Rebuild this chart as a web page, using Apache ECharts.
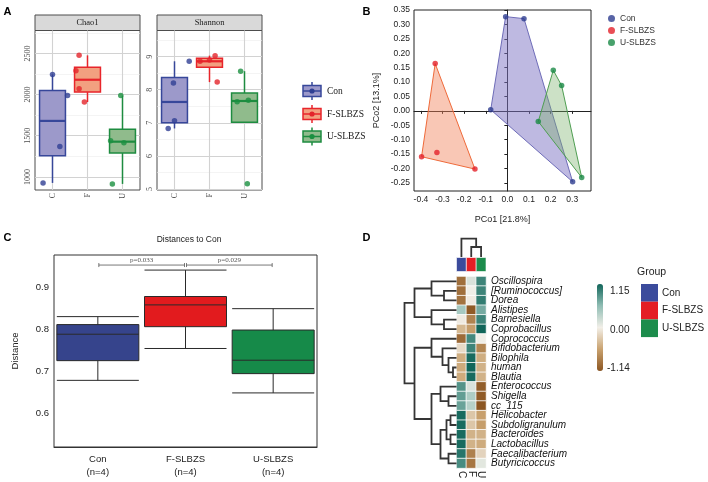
<!DOCTYPE html>
<html><head><meta charset="utf-8">
<script src="https://cdn.jsdelivr.net/npm/echarts@6/dist/echarts.min.js"></script>
<style>html,body{margin:0;padding:0;background:#fff}#c{width:708px;height:482px}</style>
</head><body><div id="c"></div>
<script>
// ---------------- DATA ----------------
const groups = ['Con', 'F-SLBZS', 'U-SLBZS'];
const facetCats = ['C', 'F', 'U'];
// Panel A: box stats [whiskerLow, Q1, median, Q3, whiskerHigh]
const chao1Box = [[927, 1258, 1680, 2048, 2244], [1910, 2030, 2180, 2333, 2476], [915, 1290, 1428, 1578, 1988]];
const chao1Pts = [[927, 1370, 1988, 2244], [1910, 2070, 2290, 2476], [915, 1415, 1440, 1988]];
const chao1Jit = [[-0.27, 0.21, 0.43, 0.0], [-0.09, -0.24, -0.33, -0.24], [-0.29, 0.04, -0.34, -0.05]];
const chao1Ticks = [1000, 1500, 2000, 2500];
const chao1Minor = [1250, 1750, 2250, 2750];
const shanBox = [[6.83, 7.0, 7.63, 8.37, 8.86], [8.23, 8.68, 8.86, 8.95, 9.03], [7.02, 7.02, 7.66, 7.90, 8.56]];
const shanPts = [[6.83, 7.06, 8.2, 8.86], [8.23, 8.86, 8.9, 9.03], [5.16, 7.64, 7.68, 8.56]];
const shanJit = [[-0.18, 0.0, -0.03, 0.42], [0.22, -0.27, 0.0, 0.16], [0.08, -0.21, 0.11, -0.11]];
const shanTicks = [5, 6, 7, 8, 9];
const shanMinor = [5.5, 6.5, 7.5, 8.5, 9.5];
// Panel B: PCoA coordinates
const pcoaCon = [[-0.008, 0.327], [0.077, 0.320], [0.302, -0.246], [-0.077, 0.004]];
const pcoaF = [[-0.334, 0.164], [-0.150, -0.202], [-0.397, -0.159], [-0.326, -0.144]];
const pcoaU = [[0.2125, 0.141], [0.251, 0.088], [0.344, -0.231], [0.143, -0.037]];
const hullCon = [0, 1, 2, 3], hullF = [0, 1, 2], hullU = [0, 1, 2, 3];
const pcoXTicks = [-0.4, -0.3, -0.2, -0.1, 0.0, 0.1, 0.2, 0.3];
const pcoYTicks = [-0.25, -0.2, -0.15, -0.1, -0.05, 0, 0.05, 0.1, 0.15, 0.2, 0.25, 0.3, 0.35];
// Panel C: distances to Con [low, Q1, median, Q3, high]
const distCats = ['Con\n(n=4)', 'F-SLBZS\n(n=4)', 'U-SLBZS\n(n=4)'];
const distBox = [[0.678, 0.725, 0.788, 0.811, 0.830], [0.754, 0.806, 0.858, 0.878, 0.941], [0.648, 0.694, 0.726, 0.798, 0.849]];
const distTicks = [0.6, 0.7, 0.8, 0.9];
const pTests = [[0, 1, 0.953], [1, 2, 0.953]];
const pLabels = ['p=0.033', 'p=0.029'];
// Panel D: heatmap
const genera = ['Oscillospira', '[Ruminococcus]', 'Dorea', 'Alistipes', 'Barnesiella', 'Coprobacillus',
  'Coprococcus', 'Bifidobacterium', 'Bilophila', 'human', 'Blautia', 'Enterococcus', 'Shigella', 'cc_115',
  'Helicobacter', 'Subdoligranulum', 'Bacteroides', 'Lactobacillus', 'Faecalibacterium', 'Butyricicoccus'];
const heatC = [-0.95, -0.95, -0.92, 0.45, -0.03, -0.40, -0.98, -0.15, -0.48, -0.50, -0.50, 0.85, 0.78, 0.75, 1.12, 1.12, 1.12, 1.12, 1.05, 0.90];
const heatF = [0.15, 0.02, -0.03, -1.10, -0.80, -0.60, 0.92, 0.95, 1.12, 1.15, 1.12, 0.15, 0.40, 0.35, -0.30, -0.30, -0.45, -0.45, -0.82, -0.90];
const heatU = [0.95, 0.95, 1.00, 0.70, 0.95, 1.15, 0.02, -0.78, -0.48, -0.45, -0.45, -1.08, -1.10, -1.14, -0.58, -0.60, -0.45, -0.50, -0.20, 0.10];
// dendrogram merges [childA, childB, height]; leaves 0..19, new nodes from 20
const rowMerges = [[1, 2, 12.5], [0, 20, 25], [4, 5, 12.5], [3, 22, 25], [21, 23, 42],
  [9, 10, 3.5], [8, 25, 8], [7, 26, 14], [6, 27, 25], [12, 13, 8], [11, 29, 16],
  [14, 15, 6], [16, 17, 6], [31, 32, 10], [18, 19, 8], [33, 34, 16], [30, 35, 25], [28, 36, 42], [24, 37, 52]];
const colMerges = [[1, 2, 10], [0, 3, 18.3]];
const heatMin = -1.14, heatMax = 1.15;

// ---------------- STYLE ----------------
const aBorder = ['#37479a', '#e8252b', '#1e8c40'];
const aFill = ['#9c99ca', '#f2a080', '#90bb8c'];
const aPoint = ['#2f3f94', '#e3242b', '#1a9040'];
const bPoint = ['#2e3d90', '#e3222a', '#1a8a46'];
const hullFill = ['rgba(125,115,195,0.50)', 'rgba(242,130,90,0.45)', 'rgba(120,175,105,0.38)'];
const hullStroke = ['#6e6cb8', '#ef6a3a', '#4f9e52'];
const cFill = ['#36448c', '#e21b1e', '#168a49'];
const grpColors = ['#3b4b9c', '#e41e24', '#1c8c4c'];
const serif = 'Liberation Serif', sans = 'Liberation Sans';

// ---------------- BUILD ----------------
const chart = echarts.init(document.getElementById('c'), null, { width: 708, height: 482 });

function ggBox(params, api) {
  const i = api.value(0);
  const pLo = api.coord([i, api.value(1)]), pQ1 = api.coord([i, api.value(2)]),
    pMd = api.coord([i, api.value(3)]), pQ3 = api.coord([i, api.value(4)]), pHi = api.coord([i, api.value(5)]);
  const bw = api.size([1, 0])[0] * 0.74;
  const x = pQ1[0];
  const col = aBorder[i];
  return { type: 'group', children: [
    { type: 'line', shape: { x1: x, y1: pQ3[1], x2: x, y2: pHi[1] }, style: { stroke: col, lineWidth: 1.5 } },
    { type: 'line', shape: { x1: x, y1: pQ1[1], x2: x, y2: pLo[1] }, style: { stroke: col, lineWidth: 1.5 } },
    { type: 'rect', shape: { x: x - bw / 2, y: pQ3[1], width: bw, height: pQ1[1] - pQ3[1] }, style: { fill: aFill[i], stroke: col, lineWidth: 1.5 } },
    { type: 'line', shape: { x1: x - bw / 2, y1: pMd[1], x2: x + bw / 2, y2: pMd[1] }, style: { stroke: col, lineWidth: 2.2 } }
  ] };
}

function facetSeries(xCat, xVal, yIdx, boxes, pts, jit, major, minor) {
  const gl = [];
  major.forEach(v => gl.push({ yAxis: v, lineStyle: { color: '#d2d2d2', width: 1.1, type: 'solid' } }));
  minor.forEach(v => gl.push({ yAxis: v, lineStyle: { color: '#ececec', width: 0.6, type: 'solid' } }));
  [0, 1, 2].forEach(v => gl.push({ xAxis: v, lineStyle: { color: '#d2d2d2', width: 1.1, type: 'solid' } }));
  const scatterData = [];
  pts.forEach((arr, g) => arr.forEach((v, k) => scatterData.push({ value: [g + jit[g][k], v], itemStyle: { color: aPoint[g] } })));
  return [
    { type: 'scatter', xAxisIndex: xVal, yAxisIndex: yIdx, data: [], z: 1, silent: true,
      markLine: { z: 1, silent: true, symbol: ['none', 'none'], label: { show: false }, animation: false, data: gl } },
    { type: 'custom', xAxisIndex: xCat, yAxisIndex: yIdx, z: 2, renderItem: ggBox,
      encode: { x: 0, y: [1, 2, 3, 4, 5] }, data: boxes.map((b, i) => [i].concat(b)) },
    { type: 'scatter', xAxisIndex: xVal, yAxisIndex: yIdx, z: 3, symbolSize: 5.5, data: scatterData }
  ];
}

const pcoaGroups = [pcoaCon, pcoaF, pcoaU];
const hulls = [hullCon, hullF, hullU];

// dendrogram geometry from merges
const nPos = genera.map((_, i) => i), nH = genera.map(() => 0);
rowMerges.forEach(([a, b, h]) => { nPos.push((nPos[a] + nPos[b]) / 2); nH.push(h); });
const rowDendro = rowMerges.map(([a, b, h]) => [nH[a], nPos[a], h, nPos[b], nH[b]]);
const cPos = facetCats.map((_, i) => i), cH = facetCats.map(() => 0);
colMerges.forEach(([a, b, h]) => { cPos.push((cPos[a] + cPos[b]) / 2); cH.push(h); });
const colDendro = colMerges.map(([a, b, h]) => [cPos[a], cH[a], h, cPos[b], cH[b]]);

const heatData = [];
genera.forEach((g, r) => { heatData.push([0, r, heatC[r]]); heatData.push([1, r, heatF[r]]); heatData.push([2, r, heatU[r]]); });

const series = [];
series.push(...facetSeries(0, 1, 0, chao1Box, chao1Pts, chao1Jit, chao1Ticks, chao1Minor));
series.push(...facetSeries(2, 3, 1, shanBox, shanPts, shanJit, shanTicks, shanMinor));
// B hulls
series.push({ type: 'custom', xAxisIndex: 4, yAxisIndex: 2, z: 1, data: pcoaGroups.map(p => p[0]),
  renderItem: (params, api) => {
    const g = params.dataIndex;
    const poly = hulls[g].map(k => api.coord(pcoaGroups[g][k]));
    return { type: 'polygon', shape: { points: poly }, style: { fill: hullFill[g], stroke: hullStroke[g], lineWidth: 1 } };
  } });
groups.forEach((name, g) => series.push({ type: 'scatter', name: name, xAxisIndex: 4, yAxisIndex: 2, z: 3,
  symbolSize: 5.5, itemStyle: { color: bPoint[g] }, data: pcoaGroups[g] }));
// C boxplot
series.push({ type: 'boxplot', xAxisIndex: 5, yAxisIndex: 3, boxWidth: [82, 82],
  itemStyle: { borderColor: '#2a2a2a', borderWidth: 1 },
  data: distBox.map((b, i) => ({ value: b, itemStyle: { color: cFill[i] } })) });
series.push({ type: 'custom', xAxisIndex: 5, yAxisIndex: 3, z: 5, data: pTests,
  encode: { x: 0, y: 2 },
  renderItem: (params, api) => {
    const a = api.coord([api.value(0), api.value(2)]), b = api.coord([api.value(1), api.value(2)]);
    const x1 = a[0] + 1, x2 = b[0] - 1, y = a[1];
    const st = { stroke: '#555', lineWidth: 0.8 };
    return { type: 'group', children: [
      { type: 'line', shape: { x1: x1, y1: y, x2: x2, y2: y }, style: st },
      { type: 'line', shape: { x1: x1, y1: y - 2, x2: x1, y2: y + 2 }, style: st },
      { type: 'line', shape: { x1: x2, y1: y - 2, x2: x2, y2: y + 2 }, style: st },
      { type: 'text', style: { x: (x1 + x2) / 2, y: y - 1, text: pLabels[params.dataIndex], fill: '#555',
        font: '7px "Liberation Serif"', align: 'center', verticalAlign: 'bottom' } }
    ] };
  } });
// D heatmap
const heatIdx = series.length;
series.push({ type: 'heatmap', xAxisIndex: 6, yAxisIndex: 4, data: heatData,
  itemStyle: { borderColor: '#ffffff', borderWidth: 0.8 }, emphasis: { disabled: true } });
series.push({ type: 'custom', xAxisIndex: 7, yAxisIndex: 5, data: rowDendro, clip: false,
  dimensions: ['a', 'b', 'c', 'd', 'e'], encode: { x: [0, 2, 4], y: [1, 3] },
  renderItem: (params, api) => {
    const pts = [[api.value(0), api.value(1)], [api.value(2), api.value(1)], [api.value(2), api.value(3)], [api.value(4), api.value(3)]].map(q => api.coord(q));
    return { type: 'polyline', shape: { points: pts }, style: { stroke: '#353535', lineWidth: 1.8, fill: null } };
  } });
series.push({ type: 'custom', xAxisIndex: 8, yAxisIndex: 6, data: colDendro, clip: false,
  dimensions: ['a', 'b', 'c', 'd', 'e'], encode: { x: [0, 3], y: [1, 2, 4] },
  renderItem: (params, api) => {
    const pts = [[api.value(0), api.value(1)], [api.value(0), api.value(2)], [api.value(3), api.value(2)], [api.value(3), api.value(4)]].map(q => api.coord(q));
    return { type: 'polyline', shape: { points: pts }, style: { stroke: '#353535', lineWidth: 1.8, fill: null } };
  } });
series.push({ type: 'custom', xAxisIndex: 9, yAxisIndex: 7, data: facetCats.map((c, i) => [i, 0]),
  renderItem: (params, api) => {
    const p = api.coord([api.value(0), 0]), s = api.size([1, 1]);
    return { type: 'rect', shape: { x: p[0] - s[0] / 2, y: p[1] - s[1] / 2, width: s[0], height: s[1] },
      style: { fill: grpColors[params.dataIndex], stroke: '#fff', lineWidth: 0.6 } };
  } });

const aLabel = { fontFamily: serif, fontSize: 8, color: '#4d4d4d' };
const hid = (gi, type, extra) => Object.assign({ gridIndex: gi, type: type, show: false }, extra || {});

const graphic = [];
// panel letters
[['A', 7.5, 12], ['B', 366.5, 11.5], ['C', 7.5, 237.5], ['D', 366.5, 237.5]].forEach(([t, x, y]) =>
  graphic.push({ type: 'text', x: x, y: y, style: { text: t, font: 'bold 11px "Liberation Sans"', fill: '#000', align: 'center', verticalAlign: 'middle' } }));
// facet strips
[['Chao1', 35, 105], ['Shannon', 157, 105]].forEach(([t, x, w]) => {
  graphic.push({ type: 'rect', shape: { x: x, y: 15, width: w, height: 15.5 }, style: { fill: '#d9d9d9', stroke: '#4d4d4d', lineWidth: 1 } });
  graphic.push({ type: 'text', x: x + w / 2, y: 23, style: { text: t, font: '8.5px "Liberation Serif"', fill: '#1a1a1a', align: 'center', verticalAlign: 'middle' } });
});
// A legend
[91, 114, 136.5].forEach((yc, g) => {
  graphic.push({ type: 'line', shape: { x1: 312, y1: yc - 9, x2: 312, y2: yc + 9 }, style: { stroke: aBorder[g], lineWidth: 1.5 } });
  graphic.push({ type: 'rect', shape: { x: 303, y: yc - 5.5, width: 18, height: 11 }, style: { fill: aFill[g], stroke: aBorder[g], lineWidth: 1.5 } });
  graphic.push({ type: 'line', shape: { x1: 303, y1: yc, x2: 321, y2: yc }, style: { stroke: aBorder[g], lineWidth: 1.5 } });
  graphic.push({ type: 'circle', shape: { cx: 312, cy: yc, r: 2.6 }, style: { fill: aPoint[g] } });
  graphic.push({ type: 'text', x: 327, y: yc, style: { text: groups[g], font: '9.5px "Liberation Serif"', fill: '#1a1a1a', verticalAlign: 'middle' } });
});
// C title
graphic.push({ type: 'text', x: 189, y: 240, style: { text: 'Distances to Con', font: '8.5px "Liberation Sans"', fill: '#222', align: 'center', verticalAlign: 'middle' } });
// D colorbar labels
[['1.15', 291.7], ['0.00', 330], ['-1.14', 368.3]].forEach(([t, y]) =>
  graphic.push({ type: 'text', x: t[0] === '-' ? 607 : 610, y: y, style: { text: t, font: '10px "Liberation Sans"', fill: '#222', verticalAlign: 'middle' } }));
graphic.push({ type: 'text', x: 637, y: 272, style: { text: 'Group', font: '10.5px "Liberation Sans"', fill: '#222', verticalAlign: 'middle' } });
groups.forEach((g, i) => {
  graphic.push({ type: 'rect', shape: { x: 641, y: 284 + i * 17.7, width: 17, height: 17.7 }, style: { fill: grpColors[i] } });
  graphic.push({ type: 'text', x: 662, y: 293 + i * 17.7, style: { text: g, font: '10px "Liberation Sans"', fill: '#222', verticalAlign: 'middle' } });
});

const option = {
  animation: false,
  backgroundColor: '#fff',
  textStyle: { fontFamily: sans },
  grid: [
    { left: 35, top: 30.5, width: 105, height: 159.5, show: true, borderColor: '#4d4d4d', borderWidth: 1, backgroundColor: '#fff' },
    { left: 157, top: 30.5, width: 105, height: 159.5, show: true, borderColor: '#4d4d4d', borderWidth: 1, backgroundColor: '#fff' },
    { left: 414, top: 10, width: 177, height: 181, show: true, borderColor: '#222', borderWidth: 1 },
    { left: 54, top: 255, width: 263, height: 192, show: true, borderColor: '#333', borderWidth: 1 },
    { left: 456.5, top: 276.5, width: 29.5, height: 191.6 },
    { left: 403, top: 276.5, width: 53.5, height: 191.6 },
    { left: 456.5, top: 238.7, width: 29.5, height: 18.3 },
    { left: 456.5, top: 257.5, width: 29.5, height: 14 }
  ],
  xAxis: [
    { gridIndex: 0, type: 'category', data: facetCats, axisLine: { show: false },
      axisTick: { alignWithLabel: true, length: 3, lineStyle: { color: '#333' } }, axisLabel: Object.assign({ rotate: 90, margin: 3, interval: 0 }, aLabel) },
    hid(0, 'value', { min: -0.5, max: 2.5 }),
    { gridIndex: 1, type: 'category', data: facetCats, axisLine: { show: false },
      axisTick: { alignWithLabel: true, length: 3, lineStyle: { color: '#333' } }, axisLabel: Object.assign({ rotate: 90, margin: 3, interval: 0 }, aLabel) },
    hid(1, 'value', { min: -0.5, max: 2.5 }),
    { gridIndex: 2, type: 'value', min: -0.432, max: 0.387, splitLine: { show: false },
      name: 'PCo1 [21.8%]', nameLocation: 'middle', nameGap: 24, nameTextStyle: { fontSize: 9, color: '#222' },
      axisLine: { lineStyle: { color: '#222' } }, axisTick: { length: 3, customValues: pcoXTicks, lineStyle: { color: '#222' } },
      axisLabel: { customValues: pcoXTicks, fontSize: 8.5, color: '#222', margin: 4, formatter: v => v.toFixed(1) } },
    { gridIndex: 3, type: 'category', data: distCats, axisLine: { lineStyle: { color: '#333' } },
      axisTick: { alignWithLabel: true, length: 4, lineStyle: { color: '#333' } },
      axisLabel: { fontSize: 9.5, color: '#222', lineHeight: 13, margin: 6, interval: 0 } },
    { gridIndex: 4, type: 'category', data: facetCats, axisLine: { show: false }, axisTick: { show: false },
      axisLabel: { rotate: -90, fontSize: 10, color: '#222', margin: 3, interval: 0 } },
    hid(5, 'value', { min: 0, max: 53.5, inverse: true }),
    hid(6, 'value', { min: -0.5, max: 2.5 }),
    hid(7, 'category', { data: facetCats })
  ],
  yAxis: [
    { gridIndex: 0, type: 'value', min: 841, max: 2778, splitLine: { show: false }, axisLine: { show: false },
      axisTick: { length: 3, customValues: chao1Ticks, lineStyle: { color: '#333' } },
      axisLabel: Object.assign({ rotate: 90, margin: 3, customValues: chao1Ticks, formatter: v => String(v) }, aLabel) },
    { gridIndex: 1, type: 'value', min: 4.97, max: 9.79, splitLine: { show: false }, axisLine: { show: false },
      axisTick: { length: 3, customValues: shanTicks, lineStyle: { color: '#333' } },
      axisLabel: Object.assign({ rotate: 90, margin: 3, customValues: shanTicks, formatter: v => String(v) }, aLabel) },
    { gridIndex: 2, type: 'value', min: -0.278, max: 0.35, splitLine: { show: false },
      name: 'PCo2 [13.1%]', nameLocation: 'middle', nameGap: 33, nameTextStyle: { fontSize: 9, color: '#222' },
      axisLine: { lineStyle: { color: '#222' } }, axisTick: { length: 3, customValues: pcoYTicks, lineStyle: { color: '#222' } },
      axisLabel: { customValues: pcoYTicks, fontSize: 8.5, color: '#222', margin: 4, formatter: v => v.toFixed(2) } },
    { gridIndex: 3, type: 'value', min: 0.519, max: 0.977, splitLine: { show: false },
      name: 'Distance', nameLocation: 'middle', nameGap: 34, nameTextStyle: { fontSize: 9.5, color: '#222' },
      axisLine: { lineStyle: { color: '#333' } }, axisTick: { length: 4, customValues: distTicks, lineStyle: { color: '#333' } },
      axisLabel: { customValues: distTicks, fontSize: 9.5, color: '#222', margin: 5, formatter: v => v.toFixed(1) } },
    { gridIndex: 4, type: 'category', data: genera, inverse: true, position: 'right', axisLine: { show: false }, axisTick: { show: false },
      axisLabel: { fontSize: 10, fontStyle: 'italic', color: '#111', margin: 5, interval: 0 } },
    hid(5, 'value', { min: -0.5, max: 19.5, inverse: true }),
    hid(6, 'value', { min: 0, max: 18.3 }),
    hid(7, 'category', { data: ['Group'] })
  ],
  visualMap: [{ type: 'continuous', min: heatMin, max: heatMax, seriesIndex: [heatIdx], left: 597, top: 284,
    itemWidth: 6, itemHeight: 87, padding: 0, calculable: false, showLabel: false, text: null,
    inRange: { color: ['#8c5622', '#c9a26f', '#f2efe8', '#90bdb4', '#11665a'] } }],
  legend: { data: groups, orient: 'vertical', left: 603, top: 9, icon: 'circle', itemWidth: 7, itemHeight: 7,
    itemGap: 3, textStyle: { fontSize: 8.5, color: '#333' }, selectedMode: false },
  series: series,
  graphic: graphic
};
chart.setOption(option);
</script></body></html>
